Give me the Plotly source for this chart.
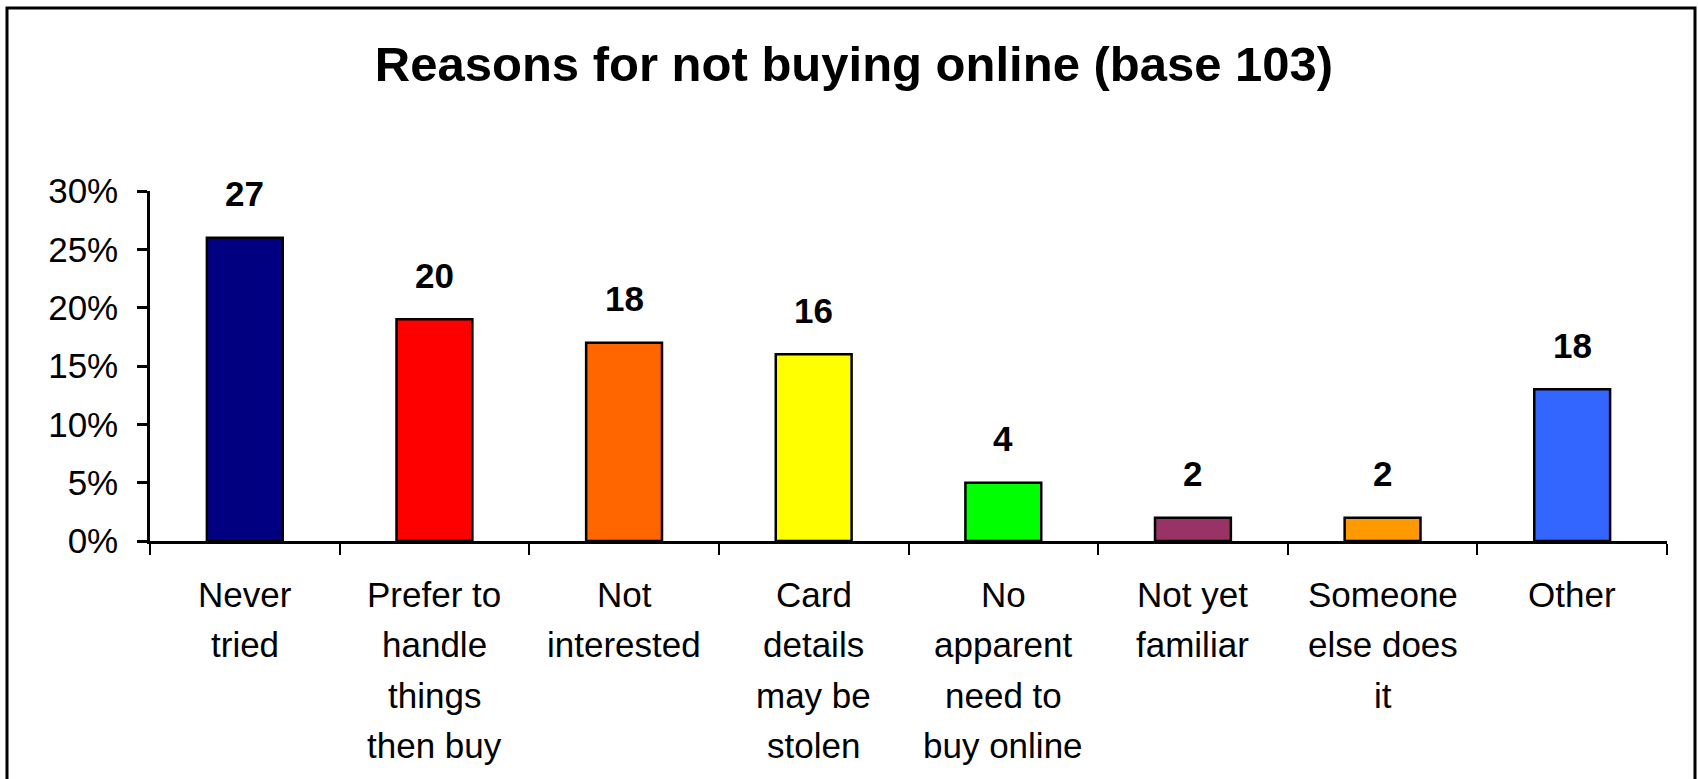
import plotly.graph_objects as go

# Survey results: share of respondents (%) and respondent counts per reason
categories = [
    "Never\ntried",
    "Prefer to\nhandle\nthings\nthen buy",
    "Not\ninterested",
    "Card\ndetails\nmay be\nstolen",
    "No\napparent\nneed to\nbuy online",
    "Not yet\nfamiliar",
    "Someone\nelse does\nit",
    "Other",
]
share_pct = [26, 19, 17, 16, 5, 2, 2, 13]
counts = [27, 20, 18, 16, 4, 2, 2, 18]
bar_colors = ["#000080", "#FF0000", "#FF6600", "#FFFF00",
              "#00FF00", "#993366", "#FF9900", "#3366FF"]
y_ticks = [0, 5, 10, 15, 20, 25, 30]

FONT = "Liberation Sans, Arial, sans-serif"

W, H = 1698, 779
ML, MR, MT, MB = 150, 31, 191, 238
PW, PH = W - ML - MR, H - MT - MB

# category keys used on the x axis (names are drawn as multi-line annotations)
cat_keys = [c.replace("\n", " ") for c in categories]

fig = go.Figure(
    go.Bar(
        x=cat_keys,
        y=share_pct,
        width=0.4,
        marker=dict(color=bar_colors, line=dict(color="black", width=2.5)),
        hoverinfo="skip",
    )
)

annotations = []
# counts written above each bar
for key, v, c in zip(cat_keys, share_pct, counts):
    annotations.append(dict(
        x=key, y=v, xref="x", yref="y", text=f"<b>{c}</b>",
        showarrow=False, yanchor="middle", yshift=44,
        font=dict(family=FONT, size=35, color="black"),
    ))
# multi-line category names under the axis, one annotation per line
for key, cat in zip(cat_keys, categories):
    for j, line in enumerate(cat.split("\n")):
        annotations.append(dict(
            x=key, y=0, xref="x", yref="paper", text=line,
            showarrow=False, yanchor="middle", yshift=-(53 + j * 50.5),
            font=dict(family=FONT, size=35, color="black"),
        ))

# outer frame around the whole chart (paper coordinates extend past the plot area)
def px_to_paper_x(px):
    return (px - ML) / PW

def px_to_paper_y(py):
    return (H - MB - py) / PH

fig.add_shape(
    type="rect", xref="paper", yref="paper",
    x0=px_to_paper_x(7), x1=px_to_paper_x(1695),
    y0=px_to_paper_y(800), y1=px_to_paper_y(8),
    line=dict(color="black", width=3), fillcolor="rgba(0,0,0,0)", layer="above",
)

fig.update_layout(
    width=W, height=H,
    margin=dict(l=ML, r=MR, t=MT, b=MB, pad=0),
    paper_bgcolor="white", plot_bgcolor="white",
    showlegend=False,
    title=dict(
        text="<b>Reasons for not buying online (base 103)</b>",
        x=854 / W, xanchor="center", y=1 - 64 / H, yanchor="middle",
        font=dict(family=FONT, size=49, color="black"),
    ),
    annotations=annotations,
    bargap=0.6,
)

fig.update_xaxes(
    type="category", categoryorder="array", categoryarray=cat_keys,
    range=[-0.5, len(categories) - 0.5],
    tickson="boundaries", ticks="outside", ticklen=11, tickwidth=2,
    tickcolor="black", showticklabels=False,
    showline=True, linecolor="black", linewidth=3,
    showgrid=False, zeroline=False, fixedrange=True,
)
fig.update_yaxes(
    range=[0, 30], tickmode="array", tickvals=y_ticks,
    ticktext=[f"{t}%" for t in y_ticks],
    ticks="outside", ticklen=10, tickwidth=2.5, tickcolor="black",
    ticklabelstandoff=12,
    tickfont=dict(family=FONT, size=35, color="black"),
    showline=True, linecolor="black", linewidth=2.5,
    showgrid=False, zeroline=False, fixedrange=True,
)

fig.write_html("out.html")
